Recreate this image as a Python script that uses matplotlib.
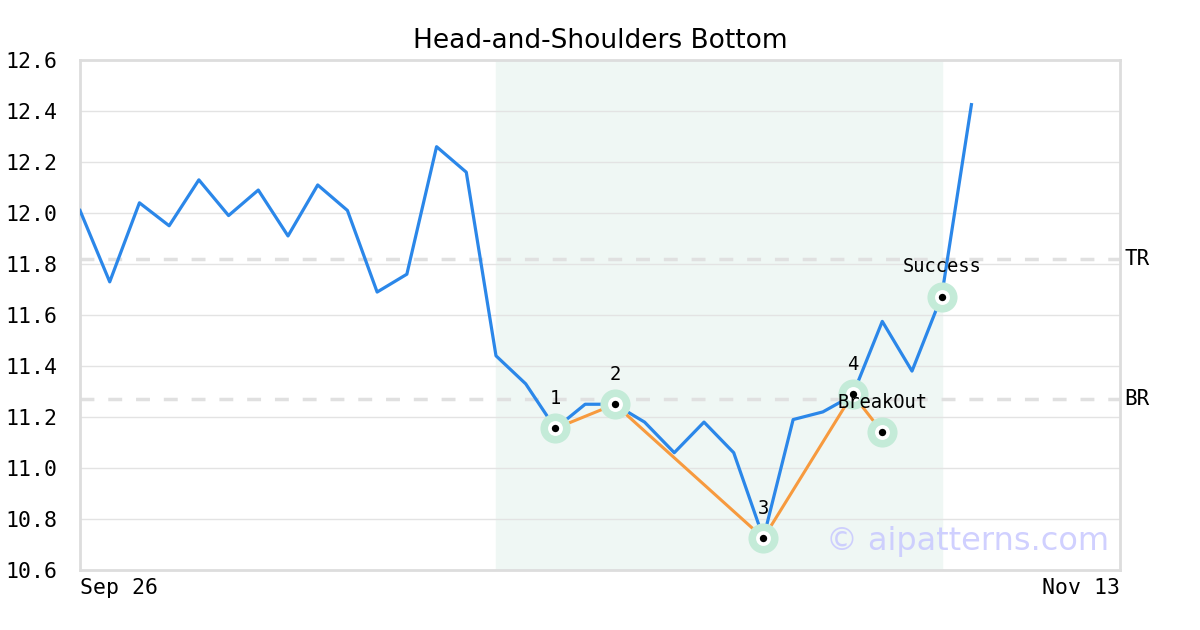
import matplotlib.pyplot as plt

start_label = 'Sep 26'
end_label = 'Nov 13'
n_slots = 35

prices = [12.01, 11.73, 12.04, 11.95, 12.13, 11.99, 12.09, 11.91, 12.11, 12.01,
          11.69, 11.76, 12.26, 12.16, 11.44, 11.33, 11.155, 11.25, 11.25, 11.18,
          11.06, 11.18, 11.06, 10.725, 11.19, 11.22, 11.285, 11.575, 11.38, 11.675,
          12.425]

pattern_idx = [16, 18, 23, 26, 27]
pattern_val = [11.155, 11.25, 10.725, 11.29, 11.14]
pattern_lbl = ['1', '2', '3', '4', 'BreakOut']

success_idx = 29
success_val = 11.672

top_resist = 11.82
bottom_resist = 11.27
zone = (14, 29)

fig = plt.figure(figsize=(12, 6.3), dpi=100)
ax = fig.add_axes([80 / 1200, 60 / 630, 1040 / 1200, 510 / 630])

ax.axvspan(zone[0], zone[1], color='#eff7f4', zorder=0)
ax.grid(axis='y', color='#e3e3e3', lw=1, zorder=1)
ax.set_axisbelow(True)

for lvl, name in [(top_resist, 'TR'), (bottom_resist, 'BR')]:
    ax.axhline(lvl, color='#e0e0e0', lw=2.5, ls=(0, (4, 4)), zorder=2)
    ax.text(n_slots + 0.15, lvl, name, fontsize=15, family='DejaVu Sans Mono',
            va='center', ha='left', clip_on=False)

ax.plot(range(len(prices)), prices, color='#2b87e9', lw=2.3, zorder=3)
ax.plot(pattern_idx, pattern_val, color='#f79a3e', lw=2.2, zorder=4)

mx = pattern_idx + [success_idx]
my = pattern_val + [success_val]
ax.scatter(mx, my, s=470, color='#c4ebd8', zorder=5, lw=0)
ax.scatter(mx, my, s=115, color='white', zorder=6, lw=0)
ax.scatter(mx, my, s=28, color='black', zorder=7, lw=0)

for x, y, t in zip(mx, my, pattern_lbl + ['Success']):
    ax.annotate(t, (x, y), xytext=(0, 21.5), textcoords='offset points',
                ha='center', va='center', fontsize=13.5, family='DejaVu Sans Mono',
                zorder=8)

ax.text(0.99, 0.055, '\u00a9 aipatterns.com', transform=ax.transAxes,
        ha='right', va='center', fontsize=23, color='#c8c8ff', alpha=0.85, zorder=9)

ax.set_xlim(0, n_slots)
ax.set_ylim(10.6, 12.6)
ax.set_yticks([10.6 + 0.2 * i for i in range(11)])
ax.set_yticklabels([f'{10.6 + 0.2 * i:.1f}' for i in range(11)],
                   family='DejaVu Sans Mono', fontsize=15.5)
ax.set_xticks([0, n_slots])
ax.set_xticklabels([start_label, end_label], family='DejaVu Sans Mono', fontsize=15.5)
labels = ax.get_xticklabels()
labels[0].set_ha('left')
labels[1].set_ha('right')
ax.tick_params(length=0, pad=6)
ax.tick_params(axis='y', pad=16)

for s in ax.spines.values():
    s.set_color('#dddddd')
    s.set_linewidth(2)

ax.set_title('Head-and-Shoulders Bottom', fontsize=19, pad=9)

fig.savefig('out.png', dpi=100)
